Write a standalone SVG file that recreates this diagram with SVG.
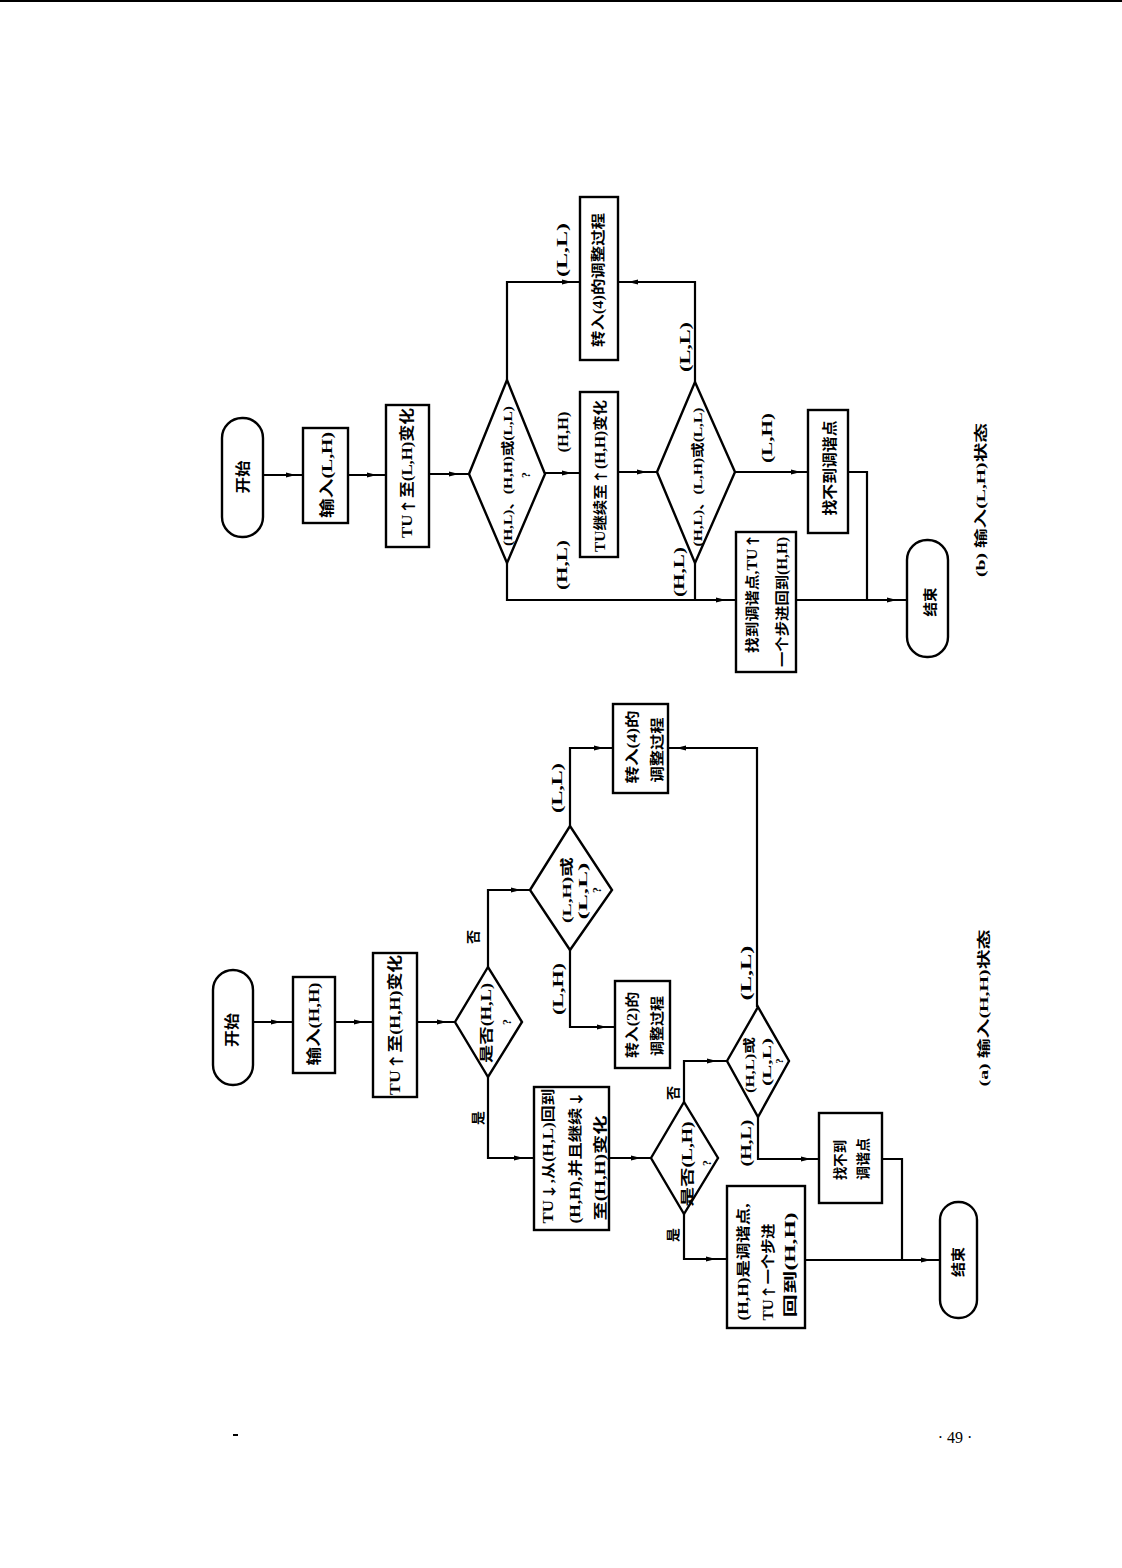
<svg xmlns="http://www.w3.org/2000/svg" xmlns:xlink="http://www.w3.org/1999/xlink" width="1122" height="1568" viewBox="0 0 1122 1568">
<style>
.bx{fill:#fff;stroke:#000;stroke-width:2.4}
.cn{fill:none;stroke:#000;stroke-width:2.2}
.t{font-family:"Liberation Serif","Noto Sans CJK SC",serif;font-weight:700;fill:#000;text-anchor:middle;dominant-baseline:central}
.a{font-family:"Noto Sans CJK SC",sans-serif}
.s15{font-size:15px}.s14{font-size:14px}.s13{font-size:13px}.s12{font-size:12px}.s11{font-size:11px}
</style>
<defs>
<path id="ar" d="M-6,-2.6 L4,0 L-6,2.6 Z" fill="#000"/>
</defs>
<rect width="1122" height="1568" fill="#fff"/>
<line x1="0" y1="1" x2="1122" y2="1" stroke="#000" stroke-width="2"/>

<g id="connectors">
<!-- (a) -->
<path class="cn" d="M253,1022 H293"/>
<path class="cn" d="M335,1022 H373"/>
<path class="cn" d="M417,1022 H455"/>
<path class="cn" d="M488,967 V890 H530"/>
<path class="cn" d="M570,826 V748 H613"/>
<path class="cn" d="M668,748 H757 V1007"/>
<path class="cn" d="M570,950 V1027 H615"/>
<path class="cn" d="M488,1077 V1158 H534"/>
<path class="cn" d="M609,1158 H651"/>
<path class="cn" d="M684,1102 V1061 H727"/>
<path class="cn" d="M684,1214 V1259 H727"/>
<path class="cn" d="M758,1117 V1159 H819"/>
<path class="cn" d="M882,1159 H902 V1260"/>
<path class="cn" d="M805,1260 H940"/>
<!-- (b) -->
<path class="cn" d="M263,475 H303"/>
<path class="cn" d="M348,475 H386"/>
<path class="cn" d="M429,474 H469"/>
<path class="cn" d="M507,380 V282 H580"/>
<path class="cn" d="M618,282 H695 V382"/>
<path class="cn" d="M545,473 H580"/>
<path class="cn" d="M618,472 H657"/>
<path class="cn" d="M735,472 H808"/>
<path class="cn" d="M848,472 H867 V600"/>
<path class="cn" d="M507,563 V600 H736"/>
<path class="cn" d="M695,563 V600"/>
<path class="cn" d="M796,600 H907"/>
<!-- arrowheads -->
<use xlink:href="#ar" transform="translate(277,1022)"/>
<use xlink:href="#ar" transform="translate(360,1022)"/>
<use xlink:href="#ar" transform="translate(443,1022)"/>
<use xlink:href="#ar" transform="translate(517,890)"/>
<use xlink:href="#ar" transform="translate(600,748)"/>
<use xlink:href="#ar" transform="translate(680,748) rotate(180)"/>
<use xlink:href="#ar" transform="translate(603,1027)"/>
<use xlink:href="#ar" transform="translate(520,1158)"/>
<use xlink:href="#ar" transform="translate(637,1158)"/>
<use xlink:href="#ar" transform="translate(713,1061)"/>
<use xlink:href="#ar" transform="translate(712,1259)"/>
<use xlink:href="#ar" transform="translate(807,1159)"/>
<use xlink:href="#ar" transform="translate(927,1260)"/>
<use xlink:href="#ar" transform="translate(292,475)"/>
<use xlink:href="#ar" transform="translate(373,475)"/>
<use xlink:href="#ar" transform="translate(455,474)"/>
<use xlink:href="#ar" transform="translate(568,282)"/>
<use xlink:href="#ar" transform="translate(632,282) rotate(180)"/>
<use xlink:href="#ar" transform="translate(568,473)"/>
<use xlink:href="#ar" transform="translate(643,472)"/>
<use xlink:href="#ar" transform="translate(797,472)"/>
<use xlink:href="#ar" transform="translate(722,600)"/>
<use xlink:href="#ar" transform="translate(893,600)"/>
</g>

<!-- ===== (a) ===== -->
<g id="a-start">
<rect class="bx" x="213" y="970" width="40" height="115" rx="20"/>
<text class="t s15" x="232" y="1030" transform="rotate(-90 232 1030)" textLength="34" lengthAdjust="spacingAndGlyphs">开始</text>
</g>
<g id="a-input">
<rect class="bx" x="293" y="977" width="42" height="96"/>
<text class="t s15" x="314" y="1024" transform="rotate(-90 314 1024)" textLength="83" lengthAdjust="spacingAndGlyphs">输入(H,H)</text>
</g>
<g id="a-tu-up">
<rect class="bx" x="373" y="953" width="44" height="144"/>
<text class="t s15" x="395" y="1025" transform="rotate(-90 395 1025)" textLength="140" lengthAdjust="spacingAndGlyphs">TU<tspan class="a">↑</tspan>至(H,H)变化</text>
</g>
<g id="a-dec1">
<polygon class="bx" points="455,1022 488,967 522,1022 488,1077"/>
<text class="t s14" x="486" y="1023" transform="rotate(-90 486 1023)" textLength="80" lengthAdjust="spacingAndGlyphs">是否(H,L)</text>
<text class="t s12" x="507" y="1022" transform="rotate(-90 507 1022)">?</text>
</g>
<text class="t s14" x="478" y="1118" transform="rotate(-90 478 1118)">是</text>
<text class="t s14" x="473" y="937" transform="rotate(-90 473 937)">否</text>
<g id="a-dec2">
<polygon class="bx" points="530,890 570,826 612,890 570,950"/>
<text class="t s13" x="566" y="890" transform="rotate(-90 566 890)" textLength="66" lengthAdjust="spacingAndGlyphs">(L,H)或</text>
<text class="t s13" x="582" y="891" transform="rotate(-90 582 891)" textLength="57" lengthAdjust="spacingAndGlyphs">(L,L)</text>
<text class="t s12" x="597" y="890" transform="rotate(-90 597 890)">?</text>
</g>
<text class="t s14" x="557" y="788" transform="rotate(-90 557 788)" textLength="50" lengthAdjust="spacingAndGlyphs">(L,L)</text>
<text class="t s14" x="558" y="989" transform="rotate(-90 558 989)" textLength="52" lengthAdjust="spacingAndGlyphs">(L,H)</text>
<g id="a-goto4">
<rect class="bx" x="613" y="704" width="55" height="89"/>
<text class="t s14" x="632" y="747" transform="rotate(-90 632 747)" textLength="73" lengthAdjust="spacingAndGlyphs">转入(4)的</text>
<text class="t s14" x="657" y="750" transform="rotate(-90 657 750)" textLength="65" lengthAdjust="spacingAndGlyphs">调整过程</text>
</g>
<g id="a-goto2">
<rect class="bx" x="615" y="981" width="55" height="87"/>
<text class="t s14" x="632" y="1025" transform="rotate(-90 632 1025)" textLength="66" lengthAdjust="spacingAndGlyphs">转入(2)的</text>
<text class="t s14" x="657" y="1026" transform="rotate(-90 657 1026)" textLength="60" lengthAdjust="spacingAndGlyphs">调整过程</text>
</g>
<text class="t s14" x="746" y="973" transform="rotate(-90 746 973)" textLength="55" lengthAdjust="spacingAndGlyphs">(L,L)</text>
<g id="a-tu-down">
<rect class="bx" x="534" y="1087" width="75" height="143"/>
<text class="t s14" x="548" y="1156" transform="rotate(-90 548 1156)" textLength="135" lengthAdjust="spacingAndGlyphs">TU<tspan class="a">↓</tspan>,从(H,L)回到</text>
<text class="t s14" x="575" y="1157" transform="rotate(-90 575 1157)" textLength="133" lengthAdjust="spacingAndGlyphs">(H,H),并且继续<tspan class="a">↓</tspan></text>
<text class="t s14" x="600" y="1168" transform="rotate(-90 600 1168)" textLength="105" lengthAdjust="spacingAndGlyphs">至(H,H)变化</text>
</g>
<g id="a-dec3">
<polygon class="bx" points="651,1158 684,1102 718,1158 684,1214"/>
<text class="t s14" x="687" y="1164" transform="rotate(-90 687 1164)" textLength="85" lengthAdjust="spacingAndGlyphs">是否(L,H)</text>
<text class="t s12" x="707" y="1163" transform="rotate(-90 707 1163)">?</text>
</g>
<text class="t s14" x="673" y="1093" transform="rotate(-90 673 1093)">否</text>
<text class="t s14" x="673" y="1235" transform="rotate(-90 673 1235)">是</text>
<g id="a-found">
<rect class="bx" x="727" y="1186" width="78" height="142"/>
<text class="t s14" x="743" y="1262" transform="rotate(-90 743 1262)" textLength="117" lengthAdjust="spacingAndGlyphs">(H,H)是调谐点,</text>
<text class="t s14" x="768" y="1272" transform="rotate(-90 768 1272)" textLength="97" lengthAdjust="spacingAndGlyphs">TU<tspan class="a">↑</tspan>一个步进</text>
<text class="t s14" x="790" y="1265" transform="rotate(-90 790 1265)" textLength="105" lengthAdjust="spacingAndGlyphs">回到(H,H)</text>
</g>
<g id="a-dec4">
<polygon class="bx" points="727,1061 758,1007 789,1061 758,1117"/>
<text class="t s12" x="750" y="1065" transform="rotate(-90 750 1065)" textLength="56" lengthAdjust="spacingAndGlyphs">(H,L)或</text>
<text class="t s12" x="767" y="1062" transform="rotate(-90 767 1062)" textLength="48" lengthAdjust="spacingAndGlyphs">(L,L)</text>
<text class="t s11" x="779" y="1061" transform="rotate(-90 779 1061)">?</text>
</g>
<text class="t s14" x="746" y="1143" transform="rotate(-90 746 1143)" textLength="47" lengthAdjust="spacingAndGlyphs">(H,L)</text>
<g id="a-notfound">
<rect class="bx" x="819" y="1113" width="63" height="90"/>
<text class="t s14" x="840" y="1160" transform="rotate(-90 840 1160)" textLength="40" lengthAdjust="spacingAndGlyphs">找不到</text>
<text class="t s14" x="863" y="1159" transform="rotate(-90 863 1159)" textLength="42" lengthAdjust="spacingAndGlyphs">调谐点</text>
</g>
<g id="a-end">
<rect class="bx" x="940" y="1202" width="37" height="116" rx="18"/>
<text class="t s14" x="958" y="1262" transform="rotate(-90 958 1262)" textLength="30" lengthAdjust="spacingAndGlyphs">结束</text>
</g>
<text class="t s13" x="983" y="1008" transform="rotate(-90 983 1008)" textLength="157" lengthAdjust="spacingAndGlyphs">(a) 输入(H,H)状态</text>

<!-- ===== (b) ===== -->
<g id="b-start">
<rect class="bx" x="222" y="418" width="41" height="119" rx="20"/>
<text class="t s15" x="243" y="477" transform="rotate(-90 243 477)" textLength="33" lengthAdjust="spacingAndGlyphs">开始</text>
</g>
<g id="b-input">
<rect class="bx" x="303" y="428" width="45" height="95"/>
<text class="t s15" x="327" y="475" transform="rotate(-90 327 475)" textLength="86" lengthAdjust="spacingAndGlyphs">输入(L,H)</text>
</g>
<g id="b-tu-up">
<rect class="bx" x="386" y="405" width="43" height="142"/>
<text class="t s15" x="407" y="473" transform="rotate(-90 407 473)" textLength="130" lengthAdjust="spacingAndGlyphs">TU<tspan class="a">↑</tspan>至(L,H)变化</text>
</g>
<g id="b-dec1">
<polygon class="bx" points="469,474 507,380 545,474 507,563"/>
<text class="t s13" x="507" y="476" transform="rotate(-90 507 476)" textLength="140" lengthAdjust="spacingAndGlyphs">(H,L)、(H,H)或(L,L)</text>
<text class="t s12" x="526" y="475" transform="rotate(-90 526 475)">?</text>
</g>
<text class="t s14" x="562" y="250" transform="rotate(-90 562 250)" textLength="54" lengthAdjust="spacingAndGlyphs">(L,L)</text>
<g id="b-goto4">
<rect class="bx" x="580" y="197" width="38" height="163"/>
<text class="t s14" x="598" y="280" transform="rotate(-90 598 280)" textLength="134" lengthAdjust="spacingAndGlyphs">转入(4)的调整过程</text>
</g>
<text class="t s14" x="685" y="347" transform="rotate(-90 685 347)" textLength="50" lengthAdjust="spacingAndGlyphs">(L,L)</text>
<text class="t s14" x="563" y="432" transform="rotate(-90 563 432)" textLength="41" lengthAdjust="spacingAndGlyphs">(H,H)</text>
<g id="b-tu-cont">
<rect class="bx" x="580" y="392" width="38" height="165"/>
<text class="t s14" x="600" y="476" transform="rotate(-90 600 476)" textLength="152" lengthAdjust="spacingAndGlyphs">TU继续至<tspan class="a">↑</tspan>(H,H)变化</text>
</g>
<g id="b-dec2">
<polygon class="bx" points="657,472 695,382 735,472 695,563"/>
<text class="t s13" x="697" y="477" transform="rotate(-90 697 477)" textLength="139" lengthAdjust="spacingAndGlyphs">(H,L)、(L,H)或(L,L)</text>
</g>
<text class="t s14" x="767" y="438" transform="rotate(-90 767 438)" textLength="50" lengthAdjust="spacingAndGlyphs">(L,H)</text>
<text class="t s14" x="562" y="565" transform="rotate(-90 562 565)" textLength="50" lengthAdjust="spacingAndGlyphs">(H,L)</text>
<text class="t s14" x="679" y="572" transform="rotate(-90 679 572)" textLength="50" lengthAdjust="spacingAndGlyphs">(H,L)</text>
<g id="b-found">
<rect class="bx" x="736" y="532" width="60" height="140"/>
<text class="t s14" x="752" y="593" transform="rotate(-90 752 593)" textLength="120" lengthAdjust="spacingAndGlyphs">找到调谐点,TU<tspan class="a">↑</tspan></text>
<text class="t s14" x="782" y="602" transform="rotate(-90 782 602)" textLength="130" lengthAdjust="spacingAndGlyphs">一个步进回到(H,H)</text>
</g>
<g id="b-notfound">
<rect class="bx" x="808" y="410" width="40" height="123"/>
<text class="t s15" x="830" y="468" transform="rotate(-90 830 468)" textLength="95" lengthAdjust="spacingAndGlyphs">找不到调谐点</text>
</g>
<g id="b-end">
<rect class="bx" x="907" y="540" width="41" height="117" rx="20"/>
<text class="t s14" x="930" y="602" transform="rotate(-90 930 602)" textLength="29" lengthAdjust="spacingAndGlyphs">结束</text>
</g>
<text class="t s13" x="980" y="500" transform="rotate(-90 980 500)" textLength="154" lengthAdjust="spacingAndGlyphs">(b) 输入(L,H)状态</text>

<line x1="233" y1="1435" x2="238" y2="1435" stroke="#000" stroke-width="2"/>
<text x="955" y="1443" font-family="Liberation Serif, serif" font-size="16" text-anchor="middle" fill="#000">· 49 ·</text>
</svg>
